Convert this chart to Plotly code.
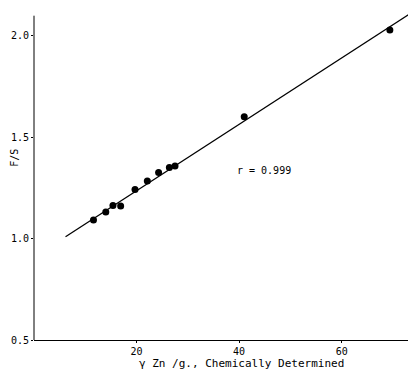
import plotly.graph_objects as go

# Data
zn_chem = [11.6, 14.0, 15.4, 16.9, 19.7, 22.1, 24.3, 26.4, 27.5, 41.0, 69.4]
f_over_s = [1.092, 1.132, 1.163, 1.161, 1.242, 1.285, 1.326, 1.351, 1.359, 1.602, 2.030]

fit_x = [6.15, 74.5]
fit_slope = 0.01637
fit_intercept = 0.909
fit_y = [fit_intercept + fit_slope * v for v in fit_x]

x_ticks = [20, 40, 60]
y_ticks = [0.5, 1.0, 1.5, 2.0]
y_labels = ["0.5", "1.0", "1.5", "2.0"]

x_title = "γ Zn /g., Chemically Determined"
y_title = "F/S"
r_label = "r = 0.999"

font = "DejaVu Sans Mono"

fig = go.Figure()
fig.add_trace(go.Scatter(x=fit_x, y=fit_y, mode="lines",
                         line=dict(color="black", width=1.3),
                         showlegend=False, hoverinfo="skip"))
fig.add_trace(go.Scatter(x=zn_chem, y=f_over_s, mode="markers",
                         marker=dict(color="black", size=7),
                         showlegend=False))

fig.add_annotation(x=44.8, y=1.335, text=r_label, showarrow=False,
                   font=dict(family=font, size=10, color="black"))

# axis titles placed as annotations to match the reference positions
fig.add_annotation(x=40.5, xref="x", y=-0.07, yref="paper", text=x_title,
                   showarrow=False, yanchor="middle",
                   font=dict(family=font, size=11, color="black"))
fig.add_annotation(x=-0.052, xref="paper", y=1.40, yref="y", text=y_title,
                   textangle=-90, showarrow=False, xanchor="center",
                   font=dict(family=font, size=10, color="black"))

# left axis line drawn only up to 2.1 (the fit line runs above it)
fig.add_shape(type="line", xref="x domain", yref="y", x0=0, x1=0, y0=0.5, y1=2.1,
              line=dict(color="black", width=1))

# page body has an 8px margin; size the figure so it fills the 416x372 window
fig.update_layout(
    width=408, height=364,
    margin=dict(l=26, r=0, t=1, b=32, autoexpand=False),
    paper_bgcolor="white", plot_bgcolor="white",
    font=dict(family=font, size=10, color="black"),
)
fig.update_xaxes(range=[0, 74.5], tickvals=x_ticks, ticktext=[str(v) for v in x_ticks],
                 showgrid=False, zeroline=False, showline=True, linecolor="black",
                 linewidth=1, ticks="outside", ticklen=2, tickcolor="black",
                 tickfont=dict(size=10), automargin=False)
fig.update_yaxes(range=[0.5, 2.133], tickvals=y_ticks, ticktext=y_labels,
                 showgrid=False, zeroline=False, showline=False,
                 ticks="outside", ticklen=2, tickcolor="black",
                 tickfont=dict(size=10), automargin=False)

fig.write_html("out.html")
